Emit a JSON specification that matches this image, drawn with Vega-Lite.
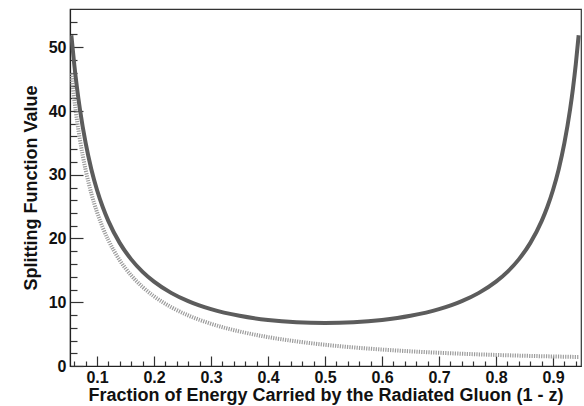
{
  "$schema": "https://vega.github.io/schema/vega-lite/v6.json",
  "width": 511,
  "height": 357,
  "autosize": {"type": "none"},
  "padding": {"left": 70, "top": 9, "right": 3, "bottom": 40},
  "background": "white",
  "config": {
    "view": {"stroke": "#333333", "strokeWidth": 1.2},
    "font": "Liberation Sans",
    "axis": {
      "grid": false,
      "domainColor": "#222222",
      "domainWidth": 1.2,
      "tickColor": "#333333",
      "tickWidth": 1.2,
      "labelFont": "Liberation Sans",
      "labelFontWeight": "bold",
      "labelFontSize": 16,
      "labelColor": "#111111",
      "titleFont": "Liberation Sans",
      "titleFontWeight": "bold",
      "titleFontSize": 18,
      "titleColor": "#111111",
      "labelOverlap": false
    }
  },
  "data": {
    "values": [
      {"x": 0.055, "curve": "gluon", "value": 51.876},
      {"x": 0.06, "curve": "gluon", "value": 47.361},
      {"x": 0.065, "curve": "gluon", "value": 43.545},
      {"x": 0.07, "curve": "gluon", "value": 40.278},
      {"x": 0.08, "curve": "gluon", "value": 34.982},
      {"x": 0.09, "curve": "gluon", "value": 30.876},
      {"x": 0.10, "curve": "gluon", "value": 27.603},
      {"x": 0.11, "curve": "gluon", "value": 24.937},
      {"x": 0.12, "curve": "gluon", "value": 22.726},
      {"x": 0.14, "curve": "gluon", "value": 19.278},
      {"x": 0.16, "curve": "gluon", "value": 16.725},
      {"x": 0.18, "curve": "gluon", "value": 14.768},
      {"x": 0.20, "curve": "gluon", "value": 13.23},
      {"x": 0.23, "curve": "gluon", "value": 11.471},
      {"x": 0.26, "curve": "gluon", "value": 10.17},
      {"x": 0.30, "curve": "gluon", "value": 8.916},
      {"x": 0.35, "curve": "gluon", "value": 7.869},
      {"x": 0.40, "curve": "gluon", "value": 7.22},
      {"x": 0.45, "curve": "gluon", "value": 6.864},
      {"x": 0.50, "curve": "gluon", "value": 6.75},
      {"x": 0.55, "curve": "gluon", "value": 6.864},
      {"x": 0.60, "curve": "gluon", "value": 7.22},
      {"x": 0.65, "curve": "gluon", "value": 7.869},
      {"x": 0.70, "curve": "gluon", "value": 8.916},
      {"x": 0.74, "curve": "gluon", "value": 10.17},
      {"x": 0.77, "curve": "gluon", "value": 11.471},
      {"x": 0.80, "curve": "gluon", "value": 13.23},
      {"x": 0.82, "curve": "gluon", "value": 14.768},
      {"x": 0.84, "curve": "gluon", "value": 16.725},
      {"x": 0.86, "curve": "gluon", "value": 19.278},
      {"x": 0.88, "curve": "gluon", "value": 22.726},
      {"x": 0.89, "curve": "gluon", "value": 24.937},
      {"x": 0.90, "curve": "gluon", "value": 27.603},
      {"x": 0.91, "curve": "gluon", "value": 30.876},
      {"x": 0.92, "curve": "gluon", "value": 34.982},
      {"x": 0.93, "curve": "gluon", "value": 40.278},
      {"x": 0.935, "curve": "gluon", "value": 43.545},
      {"x": 0.94, "curve": "gluon", "value": 47.361},
      {"x": 0.945, "curve": "gluon", "value": 51.876},
      {"x": 0.055, "curve": "quark", "value": 45.892},
      {"x": 0.06, "curve": "quark", "value": 41.858},
      {"x": 0.065, "curve": "quark", "value": 38.446},
      {"x": 0.07, "curve": "quark", "value": 35.522},
      {"x": 0.08, "curve": "quark", "value": 30.773},
      {"x": 0.09, "curve": "quark", "value": 27.083},
      {"x": 0.10, "curve": "quark", "value": 24.133},
      {"x": 0.11, "curve": "quark", "value": 21.722},
      {"x": 0.12, "curve": "quark", "value": 19.716},
      {"x": 0.14, "curve": "quark", "value": 16.568},
      {"x": 0.16, "curve": "quark", "value": 14.213},
      {"x": 0.18, "curve": "quark", "value": 12.388},
      {"x": 0.20, "curve": "quark", "value": 10.933},
      {"x": 0.23, "curve": "quark", "value": 9.234},
      {"x": 0.26, "curve": "quark", "value": 7.936},
      {"x": 0.30, "curve": "quark", "value": 6.622},
      {"x": 0.35, "curve": "quark", "value": 5.419},
      {"x": 0.40, "curve": "quark", "value": 4.533},
      {"x": 0.45, "curve": "quark", "value": 3.859},
      {"x": 0.50, "curve": "quark", "value": 3.333},
      {"x": 0.55, "curve": "quark", "value": 2.915},
      {"x": 0.60, "curve": "quark", "value": 2.578},
      {"x": 0.65, "curve": "quark", "value": 2.303},
      {"x": 0.70, "curve": "quark", "value": 2.076},
      {"x": 0.74, "curve": "quark", "value": 1.924},
      {"x": 0.77, "curve": "quark", "value": 1.823},
      {"x": 0.80, "curve": "quark", "value": 1.733},
      {"x": 0.84, "curve": "quark", "value": 1.628},
      {"x": 0.88, "curve": "quark", "value": 1.537},
      {"x": 0.90, "curve": "quark", "value": 1.496},
      {"x": 0.92, "curve": "quark", "value": 1.459},
      {"x": 0.945, "curve": "quark", "value": 1.415}
    ]
  },
  "encoding": {
    "x": {
      "field": "x",
      "type": "quantitative",
      "scale": {"domain": [0.0526, 0.9491], "nice": false, "zero": false},
      "axis": {
        "title": "Fraction of Energy Carried by the Radiated Gluon (1 - z)",
        "values": [0.06, 0.08, 0.1, 0.12, 0.14, 0.16, 0.18, 0.2, 0.22, 0.24, 0.26, 0.28, 0.3, 0.32, 0.34, 0.36, 0.38, 0.4, 0.42, 0.44, 0.46, 0.48, 0.5, 0.52, 0.54, 0.56, 0.58, 0.6, 0.62, 0.64, 0.66, 0.68, 0.7, 0.72, 0.74, 0.76, 0.78, 0.8, 0.82, 0.84, 0.86, 0.88, 0.9, 0.92, 0.94],
        "labelExpr": "abs(round(datum.value * 10) - datum.value * 10) < 0.001 ? format(datum.value, '.1f') : ''",
        "tickSize": {"condition": {"test": "abs(round(datum.value * 10) - datum.value * 10) < 0.001", "value": -10}, "value": -5},
        "labelPadding": 13,
        "titlePadding": -4
      }
    },
    "y": {
      "field": "value",
      "type": "quantitative",
      "scale": {"domain": [0, 56], "nice": false},
      "axis": {
        "title": "Splitting Function Value",
        "values": [0, 2, 4, 6, 8, 10, 12, 14, 16, 18, 20, 22, 24, 26, 28, 30, 32, 34, 36, 38, 40, 42, 44, 46, 48, 50, 52, 54],
        "labelExpr": "datum.value % 10 === 0 ? datum.label : ''",
        "tickSize": {"condition": {"test": "datum.value % 10 === 0", "value": -13}, "value": -7},
        "labelPadding": 17,
        "titlePadding": 8
      }
    }
  },
  "layer": [
    {
      "transform": [{"filter": "datum.curve === 'quark'"}],
      "mark": {"type": "line", "interpolate": "monotone", "color": "#9c9c9c", "strokeWidth": 4, "strokeDash": [1.2, 1.2], "clip": true}
    },
    {
      "transform": [{"filter": "datum.curve === 'gluon'"}],
      "mark": {"type": "line", "interpolate": "monotone", "color": "#5c5c5c", "strokeWidth": 4, "clip": true}
    }
  ]
}
